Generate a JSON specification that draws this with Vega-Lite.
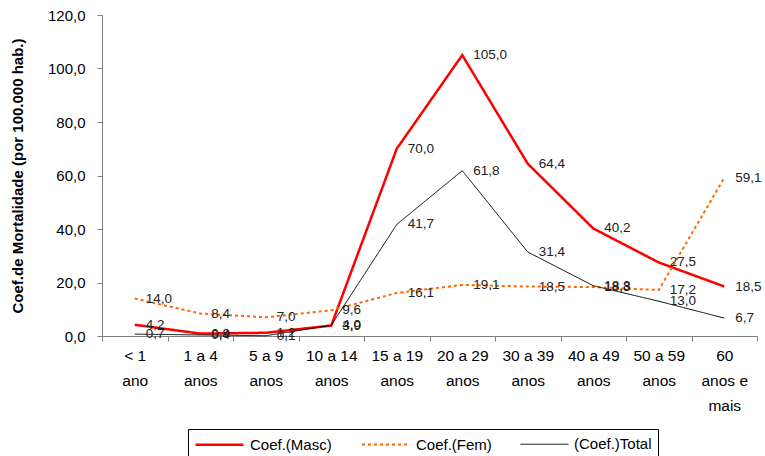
{
  "$schema": "https://vega.github.io/schema/vega-lite/v6.json",
  "autosize": {"type": "none"},
  "padding": {"left": 102, "top": 15, "right": 8, "bottom": 120},
  "width": 655,
  "height": 321,
  "title": {
    "text": "(por 100.000 hab.)",
    "anchor": "start",
    "frame": "group",
    "dx": 156,
    "offset": 8,
    "font": "Liberation Sans",
    "fontSize": 13,
    "fontWeight": "bold",
    "color": "#000000"
  },
  "config": {
    "locale": {"number": {"decimal": ",", "thousands": ".", "grouping": [3], "currency": ["", ""]}},
    "view": {"stroke": null},
    "font": "Liberation Sans",
    "axis": {"grid": false, "domainColor": "#808080", "tickColor": "#808080", "labelColor": "#000000", "titleColor": "#000000"}
  },
  "data": {
    "values": [
      {"faixa": "< 1|ano", "serie": "Coef.(Masc)", "valor": 4.2},
      {"faixa": "1 a 4|anos", "serie": "Coef.(Masc)", "valor": 0.9},
      {"faixa": "5 a 9|anos", "serie": "Coef.(Masc)", "valor": 1.2},
      {"faixa": "10 a 14|anos", "serie": "Coef.(Masc)", "valor": 3.9},
      {"faixa": "15 a 19|anos", "serie": "Coef.(Masc)", "valor": 70.0},
      {"faixa": "20 a 29|anos", "serie": "Coef.(Masc)", "valor": 105.0},
      {"faixa": "30 a 39|anos", "serie": "Coef.(Masc)", "valor": 64.4},
      {"faixa": "40 a 49|anos", "serie": "Coef.(Masc)", "valor": 40.2},
      {"faixa": "50 a 59|anos", "serie": "Coef.(Masc)", "valor": 27.5},
      {"faixa": "60|anos e|mais", "serie": "Coef.(Masc)", "valor": 18.5},
      {"faixa": "< 1|ano", "serie": "Coef.(Fem)", "valor": 14.0},
      {"faixa": "1 a 4|anos", "serie": "Coef.(Fem)", "valor": 8.4},
      {"faixa": "5 a 9|anos", "serie": "Coef.(Fem)", "valor": 7.0},
      {"faixa": "10 a 14|anos", "serie": "Coef.(Fem)", "valor": 9.6},
      {"faixa": "15 a 19|anos", "serie": "Coef.(Fem)", "valor": 16.1},
      {"faixa": "20 a 29|anos", "serie": "Coef.(Fem)", "valor": 19.1},
      {"faixa": "30 a 39|anos", "serie": "Coef.(Fem)", "valor": 18.5},
      {"faixa": "40 a 49|anos", "serie": "Coef.(Fem)", "valor": 18.3},
      {"faixa": "50 a 59|anos", "serie": "Coef.(Fem)", "valor": 17.2},
      {"faixa": "60|anos e|mais", "serie": "Coef.(Fem)", "valor": 59.1},
      {"faixa": "< 1|ano", "serie": "(Coef.)Total", "valor": 0.7},
      {"faixa": "1 a 4|anos", "serie": "(Coef.)Total", "valor": 0.4},
      {"faixa": "5 a 9|anos", "serie": "(Coef.)Total", "valor": 0.1},
      {"faixa": "10 a 14|anos", "serie": "(Coef.)Total", "valor": 4.0},
      {"faixa": "15 a 19|anos", "serie": "(Coef.)Total", "valor": 41.7},
      {"faixa": "20 a 29|anos", "serie": "(Coef.)Total", "valor": 61.8},
      {"faixa": "30 a 39|anos", "serie": "(Coef.)Total", "valor": 31.4},
      {"faixa": "40 a 49|anos", "serie": "(Coef.)Total", "valor": 18.8},
      {"faixa": "50 a 59|anos", "serie": "(Coef.)Total", "valor": 13.0},
      {"faixa": "60|anos e|mais", "serie": "(Coef.)Total", "valor": 6.7}
    ]
  },
  "encoding": {
    "x": {
      "field": "faixa",
      "type": "nominal",
      "sort": null,
      "scale": {"paddingInner": 0, "paddingOuter": 0},
      "axis": {
        "title": null,
        "labelAngle": 0,
        "labelExpr": "split(datum.label, '|')",
        "labelFontSize": 15.5,
        "labelLineHeight": 25,
        "labelPadding": 7,
        "labelBaseline": "top",
        "tickBand": "extent",
        "tickSize": 5,
        "labelFlush": false
      }
    },
    "y": {
      "field": "valor",
      "type": "quantitative",
      "scale": {"domain": [0, 120], "nice": false},
      "axis": {
        "title": "Coef.de Mortalidade (por 100.000 hab.)",
        "titleFontSize": 15,
        "titleFontWeight": "bold",
        "titlePadding": 22,
        "values": [0, 20, 40, 60, 80, 100, 120],
        "format": ".1f",
        "labelFontSize": 15,
        "labelPadding": 12,
        "tickSize": 5
      }
    }
  },
  "layer": [
    {
      "mark": {"type": "line"},
      "encoding": {
        "color": {
          "field": "serie",
          "type": "nominal",
          "scale": {"domain": ["Coef.(Masc)", "Coef.(Fem)", "(Coef.)Total"], "range": ["#ff0000", "#ff6600", "#000000"]},
          "legend": {
            "title": null,
            "orient": "none",
            "legendX": 86,
            "legendY": 414,
            "direction": "horizontal",
            "symbolType": "M-1,0H5",
            "symbolSize": 256,
            "labelFontSize": 15,
            "labelColor": "#000000",
            "labelOffset": 37,
            "columnPadding": 26,
            "strokeColor": "#000000",
            "padding": 6,
            "fillColor": "#ffffff"
          }
        },
        "strokeDash": {
          "field": "serie",
          "type": "nominal",
          "scale": {"type": "ordinal", "domain": ["Coef.(Masc)", "Coef.(Fem)", "(Coef.)Total"], "range": [[1, 0], [3, 3], [1, 0]]}
        },
        "strokeWidth": {
          "field": "serie",
          "type": "nominal",
          "scale": {"type": "ordinal", "domain": ["Coef.(Masc)", "Coef.(Fem)", "(Coef.)Total"], "range": [2.5, 2, 1]}
        }
      }
    },
    {
      "mark": {"type": "text", "align": "left", "baseline": "middle", "dx": 11, "fontSize": 13.5, "color": "#222222"},
      "encoding": {
        "detail": {"field": "serie"},
        "text": {"field": "valor", "type": "quantitative", "format": ".1f"}
      }
    }
  ]
}
